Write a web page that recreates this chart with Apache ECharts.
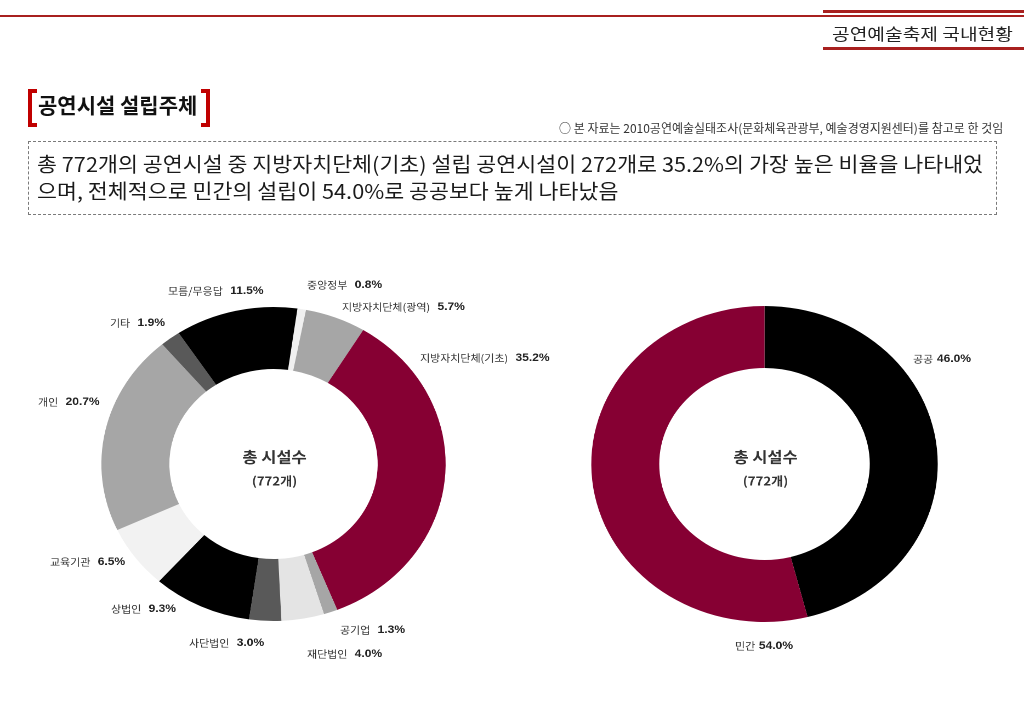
<!DOCTYPE html>
<html>
<head>
<meta charset="utf-8">
<script src="https://cdn.jsdelivr.net/npm/echarts/dist/echarts.min.js"></script>
<style>
  html, body { margin: 0; padding: 0; background: #fff; }
  body { width: 1024px; height: 703px; position: relative; overflow: hidden; font-family: "Noto Sans CJK KR", "Noto Sans", sans-serif; }
  .abs { position: absolute; }
  #chart { left: 0; top: 0; width: 934px; height: 703px; z-index: 0; transform-origin: 0 0; transform: scaleX(1.0964); }
  .ov { z-index: 2; }
  #topline { left: 0; top: 15px; width: 1024px; height: 2px; background: #a8201f; }
  #hdTop { left: 823px; top: 10px; width: 201px; height: 3px; background: #a8201f; }
  #hdBot { left: 823px; top: 47px; width: 201px; height: 3px; background: #a8201f; }
  #hdText { left: 832px; top: 21px; font-size: 16px; color: #222; white-space: nowrap; transform-origin: 0 0; transform: scaleX(1.2); }
  .br { top: 89px; width: 5px; height: 30px; border: 4px solid #c00000; }
  #brL { left: 28px; border-right: none; }
  #brR { left: 201px; border-left: none; }
  #title { left: 38px; top: 89px; font-size: 21px; font-weight: bold; color: #111; white-space: nowrap; }
  #note { left: 559px; top: 119px; font-size: 12px; color: #333; white-space: nowrap; }
  #box { left: 28px; top: 141px; width: 967px; height: 72px; border: 1px dashed #7a7a7a; }
  #boxText { left: 37px; top: 150px; font-size: 20px; line-height: 27px; color: #1a1a1a; white-space: nowrap; transform-origin: 0 0; transform: scaleX(1.085); }
</style>
</head>
<body>
<div id="chart" class="abs"></div>
<div id="topline" class="abs ov"></div>
<div id="hdTop" class="abs ov"></div>
<div id="hdText" class="abs ov">공연예술축제 국내현황</div>
<div id="hdBot" class="abs ov"></div>
<div id="brL" class="abs ov br"></div>
<div id="brR" class="abs ov br"></div>
<div id="title" class="abs ov">공연시설 설립주체</div>
<div id="note" class="abs ov">○ 본 자료는 2010공연예술실태조사(문화체육관광부, 예술경영지원센터)를 참고로 한 것임</div>
<div id="box" class="abs ov"></div>
<div id="boxText" class="abs ov">총 772개의 공연시설 중 지방자치단체(기초) 설립 공연시설이 272개로 35.2%의 가장 높은 비율을 나타내었<br>으며, 전체적으로 민간의 설립이 54.0%로 공공보다 높게 나타났음</div>
<script>
// ---- data ----
const leftNames = ['중앙정부', '지방자치단체(광역)', '지방자치단체(기초)', '공기업', '재단법인', '사단법인', '상법인', '교육기관', '개인', '기타', '모름/무응답'];
const leftValues = [0.8, 5.7, 35.2, 1.3, 4.0, 3.0, 9.3, 6.5, 20.7, 1.9, 11.5];
const rightNames = ['공공', '민간'];
const rightValues = [46.0, 54.0];
const totalCount = 772;
const centerTitle = '총 시설수';

// ---- styles / layout ----
// the chart canvas is stretched horizontally (like the reference), so x positions are divided by SX
const SX = 1.0964;
const CRIMSON = '#860033';
const leftColors = ['#f0f0f0', '#a6a6a6', CRIMSON, '#a6a6a6', '#e4e4e4', '#595959', '#000000', '#f2f2f2', '#a6a6a6', '#595959', '#000000'];
const rightColors = ['#000000', CRIMSON];
const leftLabelPos = [[307, 285], [342, 307], [420, 358], [340, 630], [307, 654], [189, 643], [111, 609], [50, 562], [38, 402], [110, 323], [168, 291]];
const rightLabelPos = [[913, 359], [735, 646]];
const LC = [273.5, 464], RC = [764.5, 464];

const rich = {
  n: { fontSize: 10, color: '#333', fontFamily: '"Noto Sans CJK KR"' },
  v: { fontSize: 11, color: '#222', fontWeight: 'bold', fontFamily: 'Arial, "Liberation Sans", sans-serif' }
};

function pieSeries(names, values, colors, center, radius, startAngle, pos, sep) {
  return {
    type: 'pie',
    center: [center[0] / SX, center[1]],
    radius: radius,
    startAngle: startAngle,
    clockwise: true,
    silent: true,
    animation: false,
    avoidLabelOverlap: false,
    itemStyle: { borderWidth: 0 },
    data: names.map((n, i) => ({ name: n, value: values[i], itemStyle: { color: colors[i] } })),
    label: {
      show: true,
      position: 'outside',
      formatter: p => `{n|${p.name}}${sep}{v|${p.value.toFixed(1)}%}`,
      rich: rich
    },
    labelLine: { show: false },
    labelLayout: p => ({ x: pos[p.dataIndex][0] / SX, y: pos[p.dataIndex][1], align: 'left', verticalAlign: 'middle' })
  };
}

function centerText(c) {
  return [
    { type: 'text', style: { text: centerTitle, x: (c[0] + 1) / SX, y: c[1] - 7, align: 'center', verticalAlign: 'middle', font: 'bold 15px "Noto Sans CJK KR"', fill: '#333' } },
    { type: 'text', style: { text: '(' + totalCount + '개)', x: (c[0] + 1) / SX, y: c[1] + 17, align: 'center', verticalAlign: 'middle', font: 'bold 12px "Noto Sans CJK KR"', fill: '#333' } }
  ];
}

const chart = echarts.init(document.getElementById('chart'), null, { renderer: 'canvas', devicePixelRatio: 2 });
chart.setOption({
  backgroundColor: 'transparent',
  animation: false,
  series: [
    pieSeries(leftNames, leftValues, leftColors, LC, [95, 157], 82, leftLabelPos, '  '),
    pieSeries(rightNames, rightValues, rightColors, RC, [96, 158], 90, rightLabelPos, ' ')
  ],
  graphic: centerText(LC).concat(centerText(RC))
});
</script>
</body>
</html>
